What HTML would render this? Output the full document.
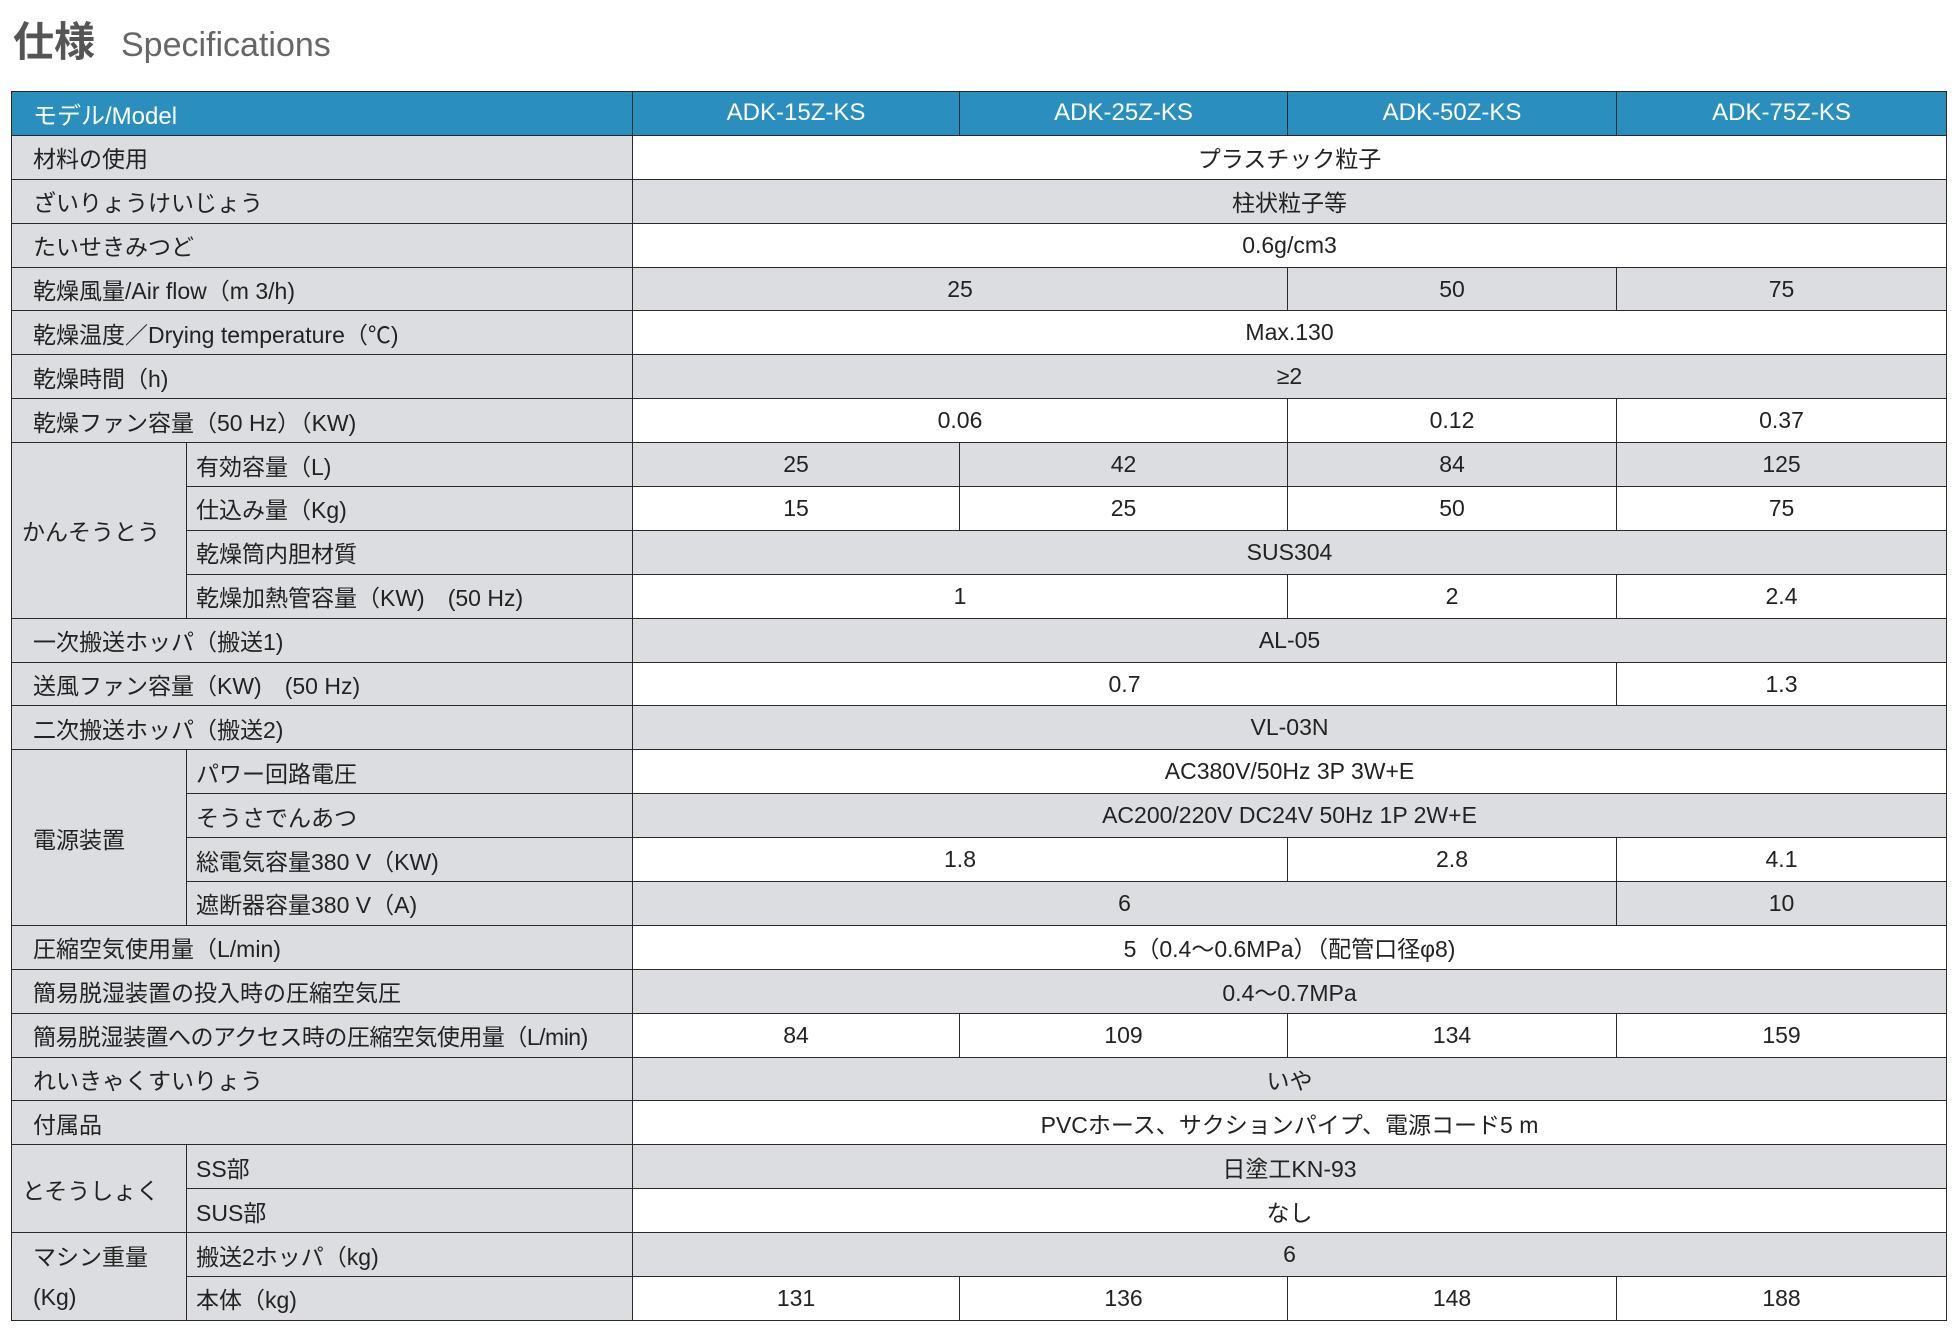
<!DOCTYPE html>
<html><head><meta charset="utf-8">
<style>
html,body{margin:0;padding:0;background:#fff;width:1958px;height:1332px;overflow:hidden}
body{font-family:"Liberation Sans","Noto Sans CJK JP",sans-serif;color:#222}
.title{position:absolute;left:13px;top:8px;height:50px;white-space:nowrap}
.title b{font-size:41px;color:#555;font-weight:bold;vertical-align:baseline}
.title span{font-size:34px;color:#666;margin-left:26px}
table{position:absolute;left:11px;top:91px;border-collapse:collapse;table-layout:fixed;width:1935px}
td{border:1.5px solid #2a2a2a;font-size:23px;height:41.4px;padding:0;text-align:center;white-space:nowrap;overflow:hidden}
tr{height:43.9px}
th{background:#2a8fbf;color:#fff;font-weight:normal;font-size:24px;border:1.5px solid #2a2a2a;height:41.4px;padding:0}
th.l{text-align:left;padding-left:21px}
td.l{background:#dcdde0;text-align:left;padding-left:21px}
td.s{background:#dcdde0;text-align:left;padding-left:9px}
td.g{background:#dcdde0;text-align:left;padding-left:10px}
tr.a td.d{background:#fff}
tr.b td.d{background:#dcdde0}
</style></head><body>
<div class="title"><b>仕様</b><span>Specifications</span></div>
<table>
<colgroup><col style="width:175px"><col style="width:446px"><col style="width:327px"><col style="width:328px"><col style="width:329px"><col style="width:330px"></colgroup>
<tr><th class="l" colspan="2">モデル/Model</th><th>ADK-15Z-KS</th><th>ADK-25Z-KS</th><th>ADK-50Z-KS</th><th>ADK-75Z-KS</th></tr>
<tr class="a"><td class="l" colspan="2">材料の使用</td><td class="d" colspan="4">プラスチック粒子</td></tr>
<tr class="b"><td class="l" colspan="2">ざいりょうけいじょう</td><td class="d" colspan="4">柱状粒子等</td></tr>
<tr class="a"><td class="l" colspan="2">たいせきみつど</td><td class="d" colspan="4">0.6g/cm3</td></tr>
<tr class="b"><td class="l" colspan="2">乾燥風量/Air flow（m 3/h)</td><td class="d" colspan="2">25</td><td class="d">50</td><td class="d">75</td></tr>
<tr class="a"><td class="l" colspan="2">乾燥温度／Drying temperature（℃)</td><td class="d" colspan="4">Max.130</td></tr>
<tr class="b"><td class="l" colspan="2">乾燥時間（h)</td><td class="d" colspan="4">≥2</td></tr>
<tr class="a"><td class="l" colspan="2">乾燥ファン容量（50 Hz）（KW)</td><td class="d" colspan="2">0.06</td><td class="d">0.12</td><td class="d">0.37</td></tr>
<tr class="b"><td class="g" rowspan="4">かんそうとう</td><td class="s">有効容量（L)</td><td class="d">25</td><td class="d">42</td><td class="d">84</td><td class="d">125</td></tr>
<tr class="a"><td class="s">仕込み量（Kg)</td><td class="d">15</td><td class="d">25</td><td class="d">50</td><td class="d">75</td></tr>
<tr class="b"><td class="s">乾燥筒内胆材質</td><td class="d" colspan="4">SUS304</td></tr>
<tr class="a"><td class="s">乾燥加熱管容量（KW)　(50 Hz)</td><td class="d" colspan="2">1</td><td class="d">2</td><td class="d">2.4</td></tr>
<tr class="b"><td class="l" colspan="2">一次搬送ホッパ（搬送1)</td><td class="d" colspan="4">AL-05</td></tr>
<tr class="a"><td class="l" colspan="2">送風ファン容量（KW)　(50 Hz)</td><td class="d" colspan="3">0.7</td><td class="d">1.3</td></tr>
<tr class="b"><td class="l" colspan="2">二次搬送ホッパ（搬送2)</td><td class="d" colspan="4">VL-03N</td></tr>
<tr class="a"><td class="l" rowspan="4">電源装置</td><td class="s">パワー回路電圧</td><td class="d" colspan="4">AC380V/50Hz 3P 3W+E</td></tr>
<tr class="b"><td class="s">そうさでんあつ</td><td class="d" colspan="4">AC200/220V DC24V 50Hz 1P 2W+E</td></tr>
<tr class="a"><td class="s">総電気容量380 V（KW)</td><td class="d" colspan="2">1.8</td><td class="d">2.8</td><td class="d">4.1</td></tr>
<tr class="b"><td class="s">遮断器容量380 V（A)</td><td class="d" colspan="3">6</td><td class="d">10</td></tr>
<tr class="a"><td class="l" colspan="2">圧縮空気使用量（L/min)</td><td class="d" colspan="4">5（0.4～0.6MPa）（配管口径φ8)</td></tr>
<tr class="b"><td class="l" colspan="2">簡易脱湿装置の投入時の圧縮空気圧</td><td class="d" colspan="4">0.4～0.7MPa</td></tr>
<tr class="a"><td class="l" colspan="2" style="letter-spacing:-0.5px">簡易脱湿装置へのアクセス時の圧縮空気使用量（L/min)</td><td class="d">84</td><td class="d">109</td><td class="d">134</td><td class="d">159</td></tr>
<tr class="b"><td class="l" colspan="2">れいきゃくすいりょう</td><td class="d" colspan="4">いや</td></tr>
<tr class="a"><td class="l" colspan="2">付属品</td><td class="d" colspan="4">PVCホース、サクションパイプ、電源コード5 m</td></tr>
<tr class="b"><td class="g" rowspan="2">とそうしょく</td><td class="s">SS部</td><td class="d" colspan="4">日塗工KN-93</td></tr>
<tr class="a"><td class="s">SUS部</td><td class="d" colspan="4">なし</td></tr>
<tr class="b"><td class="l" rowspan="2" style="line-height:40px">マシン重量<br>(Kg)</td><td class="s">搬送2ホッパ（kg)</td><td class="d" colspan="4">6</td></tr>
<tr class="a"><td class="s">本体（kg)</td><td class="d">131</td><td class="d">136</td><td class="d">148</td><td class="d">188</td></tr>
</table>
</body></html>
